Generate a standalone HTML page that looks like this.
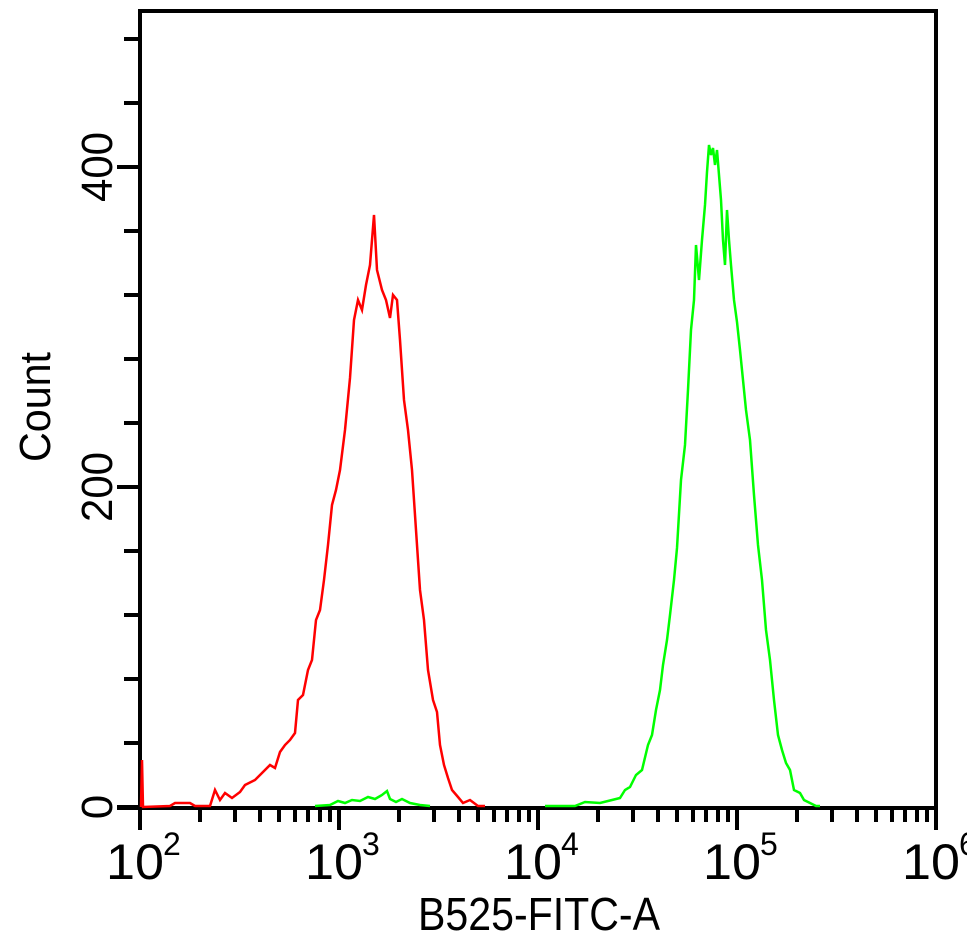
<!DOCTYPE html>
<html><head><style>
html,body{margin:0;padding:0;background:#fff;}
svg{display:block;}
text{font-family:"Liberation Sans",sans-serif;fill:#000;}
</style></head><body>
<svg width="967" height="938" viewBox="0 0 967 938" xmlns="http://www.w3.org/2000/svg">
<g shape-rendering="crispEdges">
<path d="M140,808 V11 H936 V808" fill="none" stroke="#000" stroke-width="4"/>
<line x1="117" y1="808" x2="938" y2="808" stroke="#000" stroke-width="4"/>
<g stroke="#000" stroke-width="4">
<line x1="117" y1="807" x2="140" y2="807"/>
<line x1="124" y1="743" x2="140" y2="743"/>
<line x1="124" y1="679" x2="140" y2="679"/>
<line x1="124" y1="615" x2="140" y2="615"/>
<line x1="124" y1="551" x2="140" y2="551"/>
<line x1="117" y1="487" x2="140" y2="487"/>
<line x1="124" y1="423" x2="140" y2="423"/>
<line x1="124" y1="359" x2="140" y2="359"/>
<line x1="124" y1="295" x2="140" y2="295"/>
<line x1="124" y1="231" x2="140" y2="231"/>
<line x1="117" y1="167" x2="140" y2="167"/>
<line x1="124" y1="103" x2="140" y2="103"/>
<line x1="124" y1="39" x2="140" y2="39"/>
</g>
<g id="xt" stroke="#000" stroke-width="4"></g>
</g>
<text transform="translate(112,807) rotate(-90)" font-size="44" text-anchor="middle">0</text>
<text transform="translate(112,487) rotate(-90)" font-size="44" text-anchor="middle" textLength="70" lengthAdjust="spacingAndGlyphs">200</text>
<text transform="translate(112,167) rotate(-90)" font-size="44" text-anchor="middle" textLength="70" lengthAdjust="spacingAndGlyphs">400</text>
<text transform="translate(50,462) rotate(-90)" font-size="44" textLength="110" lengthAdjust="spacingAndGlyphs">Count</text>
<g font-size="50">
<text x="106" y="879" textLength="58" lengthAdjust="spacingAndGlyphs">10</text><text x="163" y="855" font-size="32">2</text>
<text x="305" y="879" textLength="58" lengthAdjust="spacingAndGlyphs">10</text><text x="362" y="855" font-size="32">3</text>
<text x="504" y="879" textLength="58" lengthAdjust="spacingAndGlyphs">10</text><text x="561" y="855" font-size="32">4</text>
<text x="703" y="879" textLength="58" lengthAdjust="spacingAndGlyphs">10</text><text x="760" y="855" font-size="32">5</text>
<text x="902" y="879" textLength="58" lengthAdjust="spacingAndGlyphs">10</text><text x="959" y="855" font-size="32">6</text>
</g>
<text x="418" y="930" font-size="46" textLength="242" lengthAdjust="spacingAndGlyphs">B525-FITC-A</text>
<polyline fill="none" stroke="#ff0000" stroke-width="2.5" points="141,807 142,760 143,807 170,806 175,803 190,803 195,806 210,806 215,790 220,800 225,793 232,798 240,792 245,785 255,780 262,773 270,765 275,768 280,752 285,745 290,740 295,733 298,700 303,695 308,670 312,660 316,620 320,610 324,580 328,545 332,505 336,490 340,470 345,430 350,378 354,320 358,300 362,310 366,285 370,265 372,240 374,215 377,270 382,290 386,300 390,318 393,295 397,300 400,340 404,400 408,430 412,470 416,530 420,590 424,620 428,670 433,700 437,712 440,745 444,765 448,778 452,790 458,797 463,803 470,800 478,806 485,806"/>
<polyline fill="none" stroke="#00ff00" stroke-width="2.5" points="315,806 330,805 338,801 345,803 352,800 360,801 368,797 375,799 382,795 387,791 390,799 396,802 402,799 410,803 420,805 430,806"/>
<polyline fill="none" stroke="#00ff00" stroke-width="2.5" points="545,806 575,806 585,802 600,803 612,800 620,798 625,790 630,787 636,775 642,770 648,745 652,735 656,710 660,690 663,665 667,640 670,615 674,580 677,548 681,480 685,445 688,390 691,330 694,300 696,245 699,280 702,240 705,205 707,172 709,145 711,155 713,148 715,165 717,150 719,175 721,200 723,240 725,265 727,210 729,240 731,265 734,300 737,322 740,350 743,380 746,410 750,440 754,495 758,545 762,580 766,630 770,660 774,700 778,735 782,750 786,763 790,770 794,790 800,793 804,800 810,803 816,806 820,806"/>
</svg>
<script>
(function(){
var g=document.getElementById('xt');var s='';
for(var d=0;d<4;d++){var x0=140+199*d;
 for(var k=1;k<10;k++){var x=Math.round(x0+199*Math.log10(k));var len=(k==1)?22:14;
  s+='<line x1="'+x+'" y1="808" x2="'+x+'" y2="'+(808+len)+'"/>';}}
s+='<line x1="936" y1="808" x2="936" y2="830"/>';
g.innerHTML=s;})();
</script>
</body></html>
